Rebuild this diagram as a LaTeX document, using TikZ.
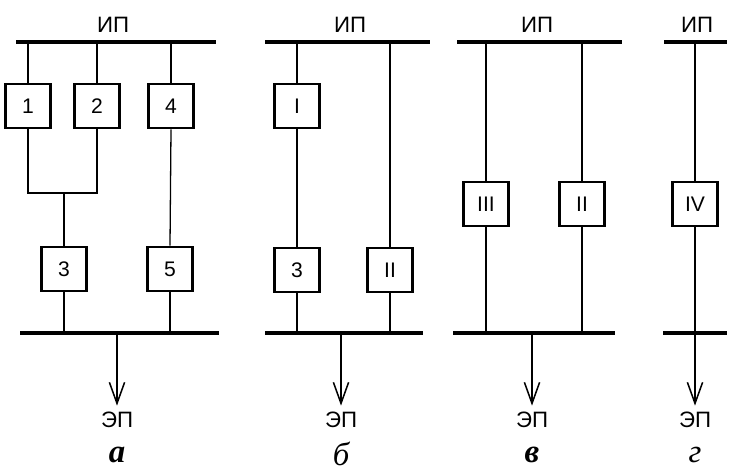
\documentclass[tikz,border=0pt]{standalone}
\usepackage{fontspec}
\setmainfont{Liberation Sans}
\newfontfamily\capfont{Liberation Serif}
\usetikzlibrary{arrows.meta}
\tikzset{
  blk/.style={draw, line width=2.2pt, minimum width=1.35cm, minimum height=1.33cm,
    inner sep=0pt, font=\fontsize{18}{20}\selectfont},
  bus/.style={line width=3.4pt},
  wire/.style={line width=1.6pt},
  thinwire/.style={line width=1.1pt},
  fatwire/.style={line width=2.4pt},
  outarrow/.style={line width=1.6pt, -{Straight Barb[length=18pt,width=13pt,line width=1.3pt]}},
  lbl/.style={font=\fontsize{19}{21}\selectfont},
  capt/.style={font=\capfont\fontsize{28}{30}\selectfont}
}
\begin{document}
\begin{tikzpicture}[x=0.03cm,y=-0.03cm]
\useasboundingbox (0,0) rectangle (738,473);

% схема а
\coordinate (aTL) at (16,42);
\coordinate (aTR) at (216,42);
\coordinate (aBL) at (20,333);
\coordinate (aBR) at (219,333);
\coordinate (aJ) at (64,193);
\coordinate (aO) at (117,333);
\draw[bus] (aTL) -- (aTR);
\draw[bus] (aBL) -- (aBR);
\node[lbl] (aIP) at (113,25) {ИП};
\node[blk] (a1) at (28,106) {1};
\node[blk] (a2) at (97,106) {2};
\node[blk] (a4) at (171,106) {4};
\node[blk] (a3) at (64,269) {3};
\node[blk] (a5) at (170,269) {5};
\draw[fatwire] (a1.north) -- (a1 |- aTL);
\draw[wire] (a2.north) -- (a2 |- aTL);
\draw[wire] (a4.north) -- (a4 |- aTL);
\draw[wire] (a1.south) |- (aJ) -| (a2.south);
\draw[fatwire] (aJ) -- (a3.north);
\draw[thinwire] (a4.south) -- (a5.north);
\draw[wire] (a3.south) -- (a3 |- aBL);
\draw[wire] (a5.south) -- (a5 |- aBL);
\node[lbl] (aEP) at (117,420) {ЭП};
\draw[outarrow] (aO) -- ([yshift=2pt]aEP.north);
\node[capt] (aCap) at (117,455) {\bfseries\itshape а};

% схема б
\coordinate (bTL) at (265,42);
\coordinate (bTR) at (430,42);
\coordinate (bBL) at (265,333);
\coordinate (bBR) at (423,333);
\coordinate (bO) at (341,333);
\draw[bus] (bTL) -- (bTR);
\draw[bus] (bBL) -- (bBR);
\node[lbl] (bIP) at (350,25) {ИП};
\node[blk] (bI) at (297,106) {I};
\node[blk] (b3) at (297,270) {3};
\node[blk] (bII) at (390,270) {II};
\draw[wire] (bI.north) -- (bI |- bTL);
\draw[wire] (bI.south) -- (b3.north);
\draw[wire] (b3.south) -- (b3 |- bBL);
\draw[wire] (bII.north) -- (bII |- bTL);
\draw[wire] (bII.south) -- (bII |- bBL);
\node[lbl] (bEP) at (341,420) {ЭП};
\draw[outarrow] (bO) -- ([yshift=2pt]bEP.north);
\node[capt] (bCap) at (341,454) {\itshape б};

% схема в
\coordinate (vTL) at (457,42);
\coordinate (vTR) at (622,42);
\coordinate (vBL) at (453,333);
\coordinate (vBR) at (615,333);
\coordinate (vO) at (532,333);
\draw[bus] (vTL) -- (vTR);
\draw[bus] (vBL) -- (vBR);
\node[lbl] (vIP) at (537,25) {ИП};
\node[blk] (vIII) at (486,204) {III};
\node[blk] (vII) at (582,204) {II};
\draw[thinwire] (vIII.north) -- (vIII |- vTL);
\draw[thinwire] (vIII.south) -- (vIII |- vBL);
\draw[wire] (vII.north) -- (vII |- vTL);
\draw[thinwire] (vII.south) -- (vII |- vBL);
\node[lbl] (vEP) at (532,420) {ЭП};
\draw[outarrow] (vO) -- ([yshift=2pt]vEP.north);
\node[capt] (vCap) at (532,455) {\bfseries\itshape в};

% схема г
\coordinate (gTL) at (664,42);
\coordinate (gTR) at (727,42);
\coordinate (gBL) at (663,333);
\coordinate (gBR) at (727,333);
\draw[bus] (gTL) -- (gTR);
\draw[bus] (gBL) -- (gBR);
\node[lbl] (gIP) at (697,25) {ИП};
\node[blk] (gIV) at (695,204) {IV};
\draw[thinwire] (gIV.north) -- (gIV |- gTL);
\node[lbl] (gEP) at (695,420) {ЭП};
\draw[outarrow, line width=2.4pt] (gIV.south) -- ([yshift=2pt]gEP.north);
\node[capt] (gCap) at (695,455) {\itshape г};
\end{tikzpicture}
\end{document}
